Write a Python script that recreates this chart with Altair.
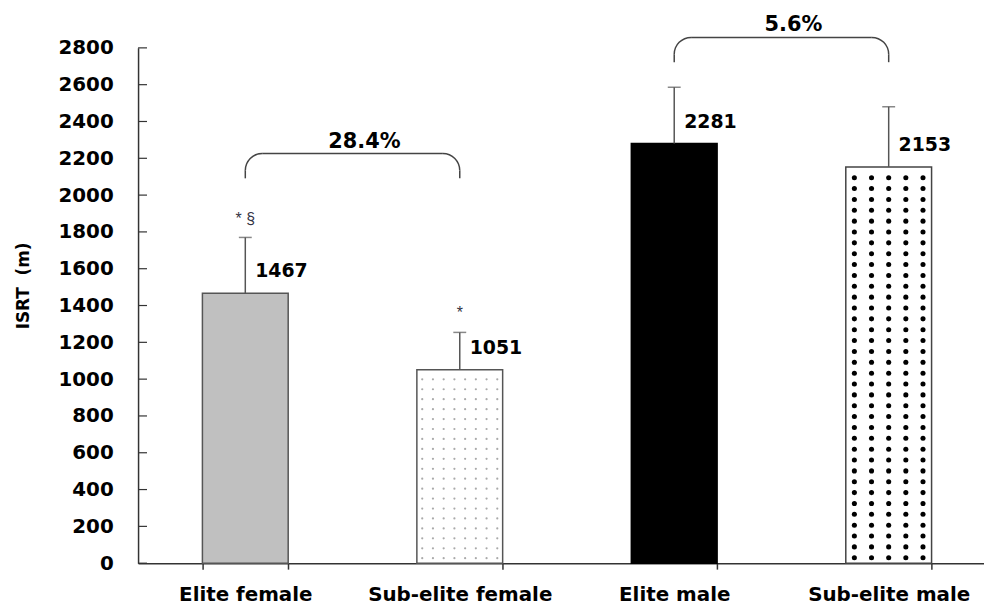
import altair as alt
import pandas as pd
import numpy as np

# ---- data ----
categories = ["Elite female", "Sub-elite female", "Elite male", "Sub-elite male"]
means = [1467, 1051, 2281, 2153]
sds = [303, 203, 305, 327]
sig_marks = ["* §", "*", "", ""]
fills = ["#c0c0c0", "#ffffff", "#000000", "#ffffff"]
strokes = ["#555555", "#555555", "#000000", "#444444"]
y_ticks = list(range(0, 2801, 200))

bracket_left = ["Elite female", "Elite male"]
bracket_right = ["Sub-elite female", "Sub-elite male"]
bracket_level = [2226, 2857]
bracket_text = ["28.4%", "5.6%"]

FONT = "DejaVu Sans"
BAR_W = 86.4

df = pd.DataFrame({
    "cat": categories,
    "mean": means,
    "sd": sds,
    "sig": sig_marks,
    "label": [str(m) for m in means],
})
df["top"] = df["mean"] + df["sd"]

br = pd.DataFrame({
    "left": bracket_left,
    "right": bracket_right,
    "level": bracket_level,
    "text": bracket_text,
})
legs = pd.DataFrame({
    "cat": bracket_left + bracket_right,
    "level": bracket_level + bracket_level,
})

x_scale = alt.Scale(domain=categories, range=[0, 864], paddingInner=0.6, paddingOuter=0.3)
y_scale = alt.Scale(domain=[0, 2800], nice=False, zero=True)

x_axis = alt.Axis(title=None, labelAngle=0, labelFont=FONT, labelFontWeight="bold",
                  labelFontSize=20, labelColor="#000", labelPadding=16, labelLimit=400,
                  domainColor="#333", domainWidth=1.5, tickColor="#333",
                  tickWidth=1.5, tickSize=6, tickBand="extent", grid=False)
y_axis = alt.Axis(title=None, values=y_ticks, format="d", labelOverlap=False,
                  labelFont=FONT, labelFontWeight="bold", labelFontSize=20,
                  labelColor="#000", labelPadding=25, ticks=False,
                  domainColor="#333", domainWidth=1.5, grid=False)


def XF(field):
    return alt.X(field, type="nominal", scale=x_scale, sort=categories, axis=x_axis)


def YF(field):
    return alt.Y(field, type="quantitative", scale=y_scale, axis=y_axis)


base = alt.Chart(df)

bars = base.mark_bar(strokeWidth=1.5).encode(
    x=XF("cat"), y=YF("mean"),
    fill=alt.Fill("cat:N", scale=alt.Scale(domain=categories, range=fills), legend=None),
    stroke=alt.Stroke("cat:N", scale=alt.Scale(domain=categories, range=strokes), legend=None),
)


# dot texture for the patterned bars (rows derived from the bar heights)
def texture_layers(cat, value, ncols, step, size, color):
    yv = np.arange(step * 0.5, value - step * 0.2, step)
    d = pd.DataFrame({"cat": [cat] * len(yv), "yv": yv})
    layers = []
    for i in range(ncols):
        off = ((i + 0.5) / ncols - 0.5) * BAR_W
        layers.append(alt.Chart(d).mark_circle(size=size, color=color, opacity=1, xOffset=off).encode(
            x=XF("cat"), y=YF("yv")))
    return layers


dots = texture_layers("Sub-elite female", means[1], 8, 54, 5, "#aaaaaa") + \
       texture_layers("Sub-elite male", means[3], 5, 59, 26, "#000000")

err = base.mark_rule(color="#555555", strokeWidth=1.5).encode(
    x=XF("cat"), y=YF("mean"), y2="top:Q",
)
caps = base.mark_tick(orient="horizontal", size=13, thickness=1.5, color="#555555").encode(
    x=XF("cat"), y=YF("top"),
)

vals = base.mark_text(font=FONT, fontWeight="bold", fontSize=19, color="#000",
                      align="left", baseline="middle", dx=10, dy=-22).encode(
    x=XF("cat"), y=YF("mean"), text="label:N",
)

sig = base.mark_text(font="Liberation Sans", fontSize=16, color="#333344",
                     align="center", baseline="alphabetic", dy=-14).encode(
    x=XF("cat"), y=YF("top"), text="sig:N",
)

# y ticks drawn inward
yt = alt.Chart(pd.DataFrame({"t": y_ticks})).mark_rule(color="#333", strokeWidth=1.2).encode(
    x=alt.value(0), x2=alt.value(9), y=YF("t"),
)

# brackets
R = 17
LEG = 25
BR_COLOR = "#444444"
hline = alt.Chart(br).mark_rule(color=BR_COLOR, strokeWidth=1.5, xOffset=R, x2Offset=-R).encode(
    x=XF("left"), x2="right:N", y=YF("level"),
)
vlegs = alt.Chart(legs).mark_rule(color=BR_COLOR, strokeWidth=1.5, yOffset=R, y2Offset=LEG).encode(
    x=XF("cat"), y=YF("level"), y2="level:Q",
)
cornerL = alt.Chart(br).mark_arc(radius=R + 0.75, radius2=R - 0.75, theta=3 * np.pi / 2,
                                 theta2=2 * np.pi, color=BR_COLOR, xOffset=R, yOffset=R).encode(
    x=XF("left"), y=YF("level"),
)
cornerR = alt.Chart(br).mark_arc(radius=R + 0.75, radius2=R - 0.75, theta=0,
                                 theta2=np.pi / 2, color=BR_COLOR, xOffset=-R, yOffset=R).encode(
    x=XF("right"), y=YF("level"),
)
pct = alt.Chart(br).mark_text(font=FONT, fontWeight="bold", fontSize=21, color="#000",
                              align="center", baseline="alphabetic", dx=120, dy=-6).encode(
    x=XF("left"), y=YF("level"), text="text:N",
)

ytitle = alt.Chart(pd.DataFrame({"t": ["ISRT\u00a0\u00a0(m)"]})).mark_text(
    font=FONT, fontWeight="bold", fontSize=17, color="#000", angle=270,
    align="right", baseline="middle").encode(
    x=alt.value(-115), y=alt.value(196), text="t:N",
)

chart = alt.layer(
    bars, *dots, err, caps, vals, sig, yt, hline, vlegs, cornerL, cornerR, pct, ytitle
).properties(
    width=852, height=519,
    autosize=alt.AutoSizeParams(type="none"),
    padding={"left": 131, "top": 38, "right": 0, "bottom": 45},
).configure_view(stroke=None)

chart.save("out.html", embed_options={"renderer": "svg", "actions": False})
